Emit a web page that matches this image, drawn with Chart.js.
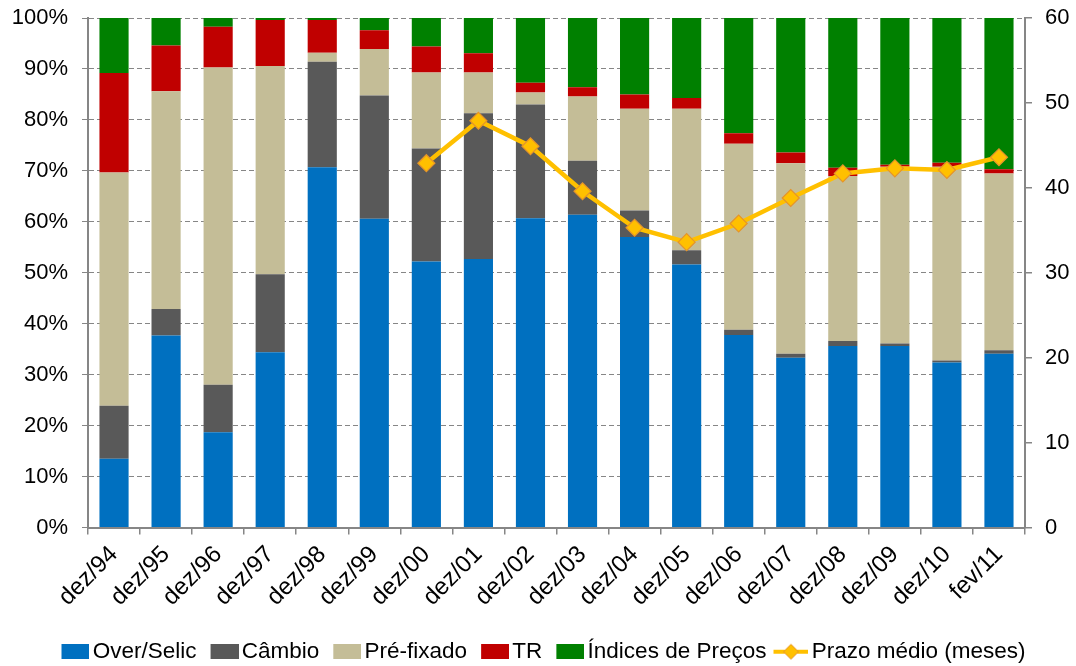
<!DOCTYPE html>
<html>
<head>
<meta charset="utf-8">
<script src="https://cdn.jsdelivr.net/npm/chart.js@4.4.1/dist/chart.umd.min.js"></script>
<style>
html,body{margin:0;padding:0;background:#fff;}
#wrap{width:1076px;height:666px;position:relative;}
</style>
</head>
<body>
<div id="wrap"><canvas id="c" width="1076" height="666"></canvas></div>
<script>
const categories = ["dez/94","dez/95","dez/96","dez/97","dez/98","dez/99","dez/00","dez/01","dez/02","dez/03","dez/04","dez/05","dez/06","dez/07","dez/08","dez/09","dez/10","fev/11"];
const overSelic = [13.5,37.7,18.7,34.4,70.7,60.6,52.2,52.7,60.7,61.4,57.0,51.6,37.8,33.3,35.6,35.6,32.4,34.1];
const cambio    = [10.4,5.2,9.3,15.3,20.7,24.2,22.2,28.6,22.3,10.6,5.2,2.8,1.0,0.8,1.0,0.5,0.4,0.7];
const preFixado = [45.8,42.7,62.3,40.9,1.8,9.1,14.9,8.0,2.4,12.6,20.0,27.8,36.5,37.4,32.4,34.7,38.0,34.7];
const tr        = [19.5,9.0,8.0,9.0,6.4,3.7,5.1,3.8,1.9,1.8,2.8,2.1,2.1,2.1,1.6,0.4,0.8,0.8];
const indices   = [10.8,5.4,1.7,0.4,0.4,2.4,5.6,6.9,12.7,13.6,15.0,15.7,22.6,26.4,29.4,28.8,28.4,29.7];
const prazoMedio = [null,null,null,null,null,null,42.9,47.9,44.9,39.6,35.3,33.6,35.8,38.8,41.7,42.3,42.1,43.6];
const leftTicks = [0,10,20,30,40,50,60,70,80,90,100];
const rightTicks = [0,10,20,30,40,50,60];

const FONT = {family: "'Liberation Sans', Arial, sans-serif", size: 22};
const LFONT = {family: "'Liberation Sans', Arial, sans-serif", size: 22.5};
const XFONT = {family: "'Liberation Sans', Arial, sans-serif", size: 24};
const GRID = '#868686';

function boxImg(color){
  const cv = document.createElement('canvas');
  cv.width = 47; cv.height = 15;
  const g = cv.getContext('2d');
  g.fillStyle = color;
  g.fillRect(19, 0, 28, 15);
  return cv;
}
function lineImg(){
  const cv = document.createElement('canvas');
  cv.width = 47; cv.height = 18;
  const g = cv.getContext('2d');
  g.strokeStyle = '#FFC000';
  g.lineWidth = 4;
  g.beginPath(); g.moveTo(12, 9); g.lineTo(47, 9); g.stroke();
  g.fillStyle = '#FFC000';
  g.strokeStyle = '#E5942A';
  g.lineWidth = 1;
  g.beginPath();
  g.moveTo(29.5, 1.5); g.lineTo(37, 9); g.lineTo(29.5, 16.5); g.lineTo(22, 9); g.closePath();
  g.fill(); g.stroke();
  return cv;
}

const barDefs = [
  {label:'Over/Selic', data: overSelic, color:'#0070C0'},
  {label:'Câmbio', data: cambio, color:'#595959'},
  {label:'Pré-fixado', data: preFixado, color:'#C4BD97'},
  {label:'TR', data: tr, color:'#C00000'},
  {label:'Índices de Preços', data: indices, color:'#008000'}
];

const datasets = barDefs.map(d => ({
  type:'bar', label:d.label, data:d.data, backgroundColor:d.color,
  borderWidth:0, yAxisID:'y', stack:'s', order:2,
  categoryPercentage:1.0, barPercentage:0.56
}));
datasets.push({
  type:'line', label:'Prazo médio (meses)', data: prazoMedio, yAxisID:'y1', order:0,
  borderColor:'#FFC000', borderWidth:4.5, tension:0, spanGaps:false,
  pointStyle:'rectRot', pointRadius:8.5, pointBackgroundColor:'#FFC000',
  pointBorderColor:'#E5942A', pointBorderWidth:1.2
});

const legendImgs = [boxImg('#0070C0'), boxImg('#595959'), boxImg('#C4BD97'), boxImg('#C00000'), boxImg('#008000'), lineImg()];

const legendShift = {
  id:'legendShift',
  afterLayout(chart){ const l = chart.legend; if (l) { l.top += 7; l.bottom += 7; } }
};

new Chart(document.getElementById('c'), {
  data: {labels: categories, datasets},
  plugins:[legendShift],
  options: {
    responsive:false, animation:false,
    layout:{padding:{left:0, right:0, top:18, bottom:0}},
    plugins:{
      tooltip:{enabled:false},
      legend:{
        position:'bottom',
        labels:{
          font:LFONT, color:'#000', usePointStyle:true, pointStyleWidth:31, boxHeight:15, padding:3,
          generateLabels(chart){
            return chart.data.datasets.map((ds,i)=>({
              text: ds.label, pointStyle: legendImgs[i], fillStyle:'transparent',
              strokeStyle:'transparent', lineWidth:0, hidden:false, datasetIndex:i, fontColor:'#000'
            }));
          }
        }
      }
    },
    scales:{
      x:{
        stacked:true,
        afterFit(axis){ axis.paddingLeft = 0; axis.paddingRight = 0; axis.height = 103; },
        grid:{display:true, drawOnChartArea:false, drawTicks:true, tickLength:7, color:GRID, lineWidth:1.5, offset:true},
        border:{display:true, color:GRID, width:2},
        ticks:{font:XFONT, color:'#000', minRotation:45, maxRotation:45, autoSkip:false, padding:6}
      },
      y:{
        stacked:true, min:0, max:100,
        afterBuildTicks(axis){ axis.ticks = leftTicks.map(v=>({value:v})); },
        afterFit(axis){ axis.paddingTop = 0; axis.paddingBottom = 0; axis.width = 88; },
        grid:{color:GRID, lineWidth:1, drawTicks:true, tickLength:6},
        border:{display:true, color:GRID, width:2, dash:[5,3]},
        ticks:{font:FONT, color:'#000', padding:14, callback:v=>v+'%'}
      },
      y1:{
        position:'right', min:0, max:60,
        afterBuildTicks(axis){ axis.ticks = rightTicks.map(v=>({value:v})); },
        afterFit(axis){ axis.paddingTop = 0; axis.paddingBottom = 0; axis.width = 51; },
        grid:{drawOnChartArea:false, drawTicks:true, tickLength:7, color:GRID, lineWidth:1.5},
        border:{display:true, color:GRID, width:2},
        ticks:{font:FONT, color:'#000', padding:13}
      }
    }
  }
});
</script>
</body>
</html>
